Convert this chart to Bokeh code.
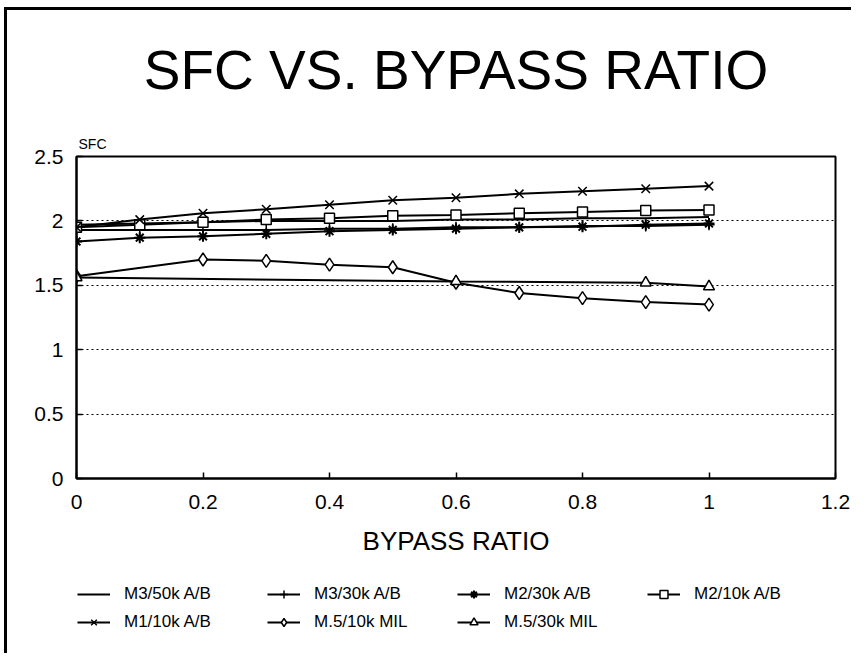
from bokeh.plotting import figure
from bokeh.layouts import column
from bokeh.models import Range1d, Legend, LegendItem, FixedTicker, Title
from bokeh.embed import file_html
from bokeh.resources import INLINE

# ---- data ----
x_all = [0.0, 0.1, 0.2, 0.3, 0.4, 0.5, 0.6, 0.7, 0.8, 0.9, 1.0]
m3_50k = [1.97, 1.98, 1.99, 2.00, 2.00, 2.00, 2.01, 2.01, 2.02, 2.02, 2.03]
m3_30k = [1.93, 1.93, 1.93, 1.93, 1.94, 1.94, 1.95, 1.95, 1.96, 1.96, 1.97]
m2_30k = [1.84, 1.87, 1.88, 1.90, 1.92, 1.93, 1.94, 1.95, 1.955, 1.97, 1.98]
m2_10k = [1.95, 1.97, 1.99, 2.01, 2.02, 2.04, 2.045, 2.06, 2.07, 2.08, 2.085]
m1_10k = [1.95, 2.01, 2.06, 2.09, 2.125, 2.16, 2.18, 2.21, 2.23, 2.25, 2.27]
x_m5_10k = [0.0, 0.2, 0.3, 0.4, 0.5, 0.6, 0.7, 0.8, 0.9, 1.0]
m5_10k = [1.57, 1.70, 1.69, 1.66, 1.64, 1.52, 1.44, 1.40, 1.37, 1.35]
x_m5_30k = [0.0, 0.6, 0.9, 1.0]
m5_30k = [1.56, 1.53, 1.52, 1.49]

x_ticks = [0, 0.2, 0.4, 0.6, 0.8, 1.0, 1.2]
x_tick_labels = ["0", "0.2", "0.4", "0.6", "0.8", "1", "1.2"]
y_ticks = [0, 0.5, 1.0, 1.5, 2.0, 2.5]
y_tick_labels = ["0", "0.5", "1", "1.5", "2", "2.5"]
grid_vals = [0.5, 1.0, 1.5, 2.0]

labels = ["M3/50k A/B", "M3/30k A/B", "M2/30k A/B", "M2/10k A/B",
          "M1/10k A/B", "M.5/10k MIL", "M.5/30k MIL"]

FONT = "Liberation Sans"

# (x, y, marker, marker size, marker line width, fill)
series = [
    (x_all, m3_50k, None, 0, 0, None),
    (x_all, m3_30k, "cross", 11, 1.5, None),
    (x_all, m2_30k, "asterisk", 11, 2, None),
    (x_all, m2_10k, "square", 10, 1.5, "white"),
    (x_all, m1_10k, "x", 12, 1.5, None),
    (x_m5_10k, m5_10k, "diamond", 13, 1.5, "white"),
    (x_m5_30k, m5_30k, "triangle", 11, 1.5, "white"),
]

p = figure(width=851, height=570, output_backend="svg", toolbar_location=None,
           x_range=Range1d(0, 1.2), y_range=Range1d(0, 2.5),
           min_border_left=76, min_border_right=16, min_border_top=156,
           min_border_bottom=92)
p.border_fill_alpha = 0

p.outline_line_color = "black"
p.outline_line_width = 2
p.xgrid.visible = False
p.ygrid.ticker = FixedTicker(ticks=grid_vals)
p.ygrid.grid_line_color = "black"
p.ygrid.grid_line_dash = "2 3"
p.ygrid.grid_line_width = 1

for ax, ticks, tl in ((p.xaxis[0], x_ticks, x_tick_labels), (p.yaxis[0], y_ticks, y_tick_labels)):
    ax.ticker = FixedTicker(ticks=ticks)
    ax.major_label_overrides = {t: l for t, l in zip(ticks, tl)}
    ax.major_tick_in = 6
    ax.major_tick_out = 0
    ax.minor_tick_line_color = None
    ax.axis_line_width = 2
    ax.major_tick_line_width = 1.5
    ax.major_label_text_font = FONT
    ax.major_label_text_font_size = "21px"
    ax.major_label_text_color = "black"

p.xaxis.major_label_standoff = 16
p.yaxis.major_label_standoff = 13
p.xaxis.axis_label = "BYPASS RATIO"
p.xaxis.axis_label_text_font = FONT
p.xaxis.axis_label_text_font_size = "26px"
p.xaxis.axis_label_text_font_style = "normal"
p.xaxis.axis_label_text_color = "black"
p.xaxis.axis_label_standoff = 14

p.add_layout(Title(text="SFC", align="left", offset=2, standoff=9,
                   text_font=FONT, text_font_size="14px", text_font_style="normal",
                   text_color="black"), "above")
p.add_layout(Title(text="SFC VS. BYPASS RATIO", align="center", standoff=58,
                   text_font=FONT, text_font_size="55px", text_font_style="normal",
                   text_color="black"), "above")

# legend strip below the chart: same series drawn outside its visible range
q = figure(width=851, height=83, output_backend="svg", toolbar_location=None,
           x_range=Range1d(10, 11), y_range=Range1d(10, 11),
           x_axis_location=None, y_axis_location=None,
           min_border_left=0, min_border_right=0, min_border_top=0, min_border_bottom=0)
q.grid.visible = False
q.outline_line_color = None
q.border_fill_alpha = 0
q.background_fill_alpha = 0

items = []
for fig in (p, q):
    its = []
    for (xs, ys, mk, sz, mlw, fill), lab in zip(series, labels):
        rs = [fig.line(xs, ys, line_color="black", line_width=2)]
        if mk is not None:
            rs.append(fig.scatter(xs, ys, marker=mk, size=sz, line_color="black",
                                  line_width=mlw, fill_color=fill if fill else "black"))
        its.append(LegendItem(label=lab, renderers=rs))
    items = its


def make_legend(its, loc):
    lg = Legend(items=its, location=loc, orientation="horizontal")
    lg.border_line_color = None
    lg.background_fill_alpha = 0
    lg.padding = 0
    lg.margin = 0
    lg.spacing = 8
    lg.glyph_width = 33
    lg.glyph_height = 20
    lg.label_height = 20
    lg.label_standoff = 14
    lg.label_width = 135
    lg.label_text_font = FONT
    lg.label_text_font_size = "17px"
    lg.label_text_color = "black"
    return lg


q.add_layout(make_legend(items[:4], (1, 49)), "center")
q.add_layout(make_legend(items[4:], (1, 21)), "center")

layout = column(p, q, spacing=0)
layout.styles = {"box-shadow": "inset 4px 7px 0 0 white, inset 7px 10px 0 0 black"}

open("out.html", "w").write(file_html(layout, INLINE))
